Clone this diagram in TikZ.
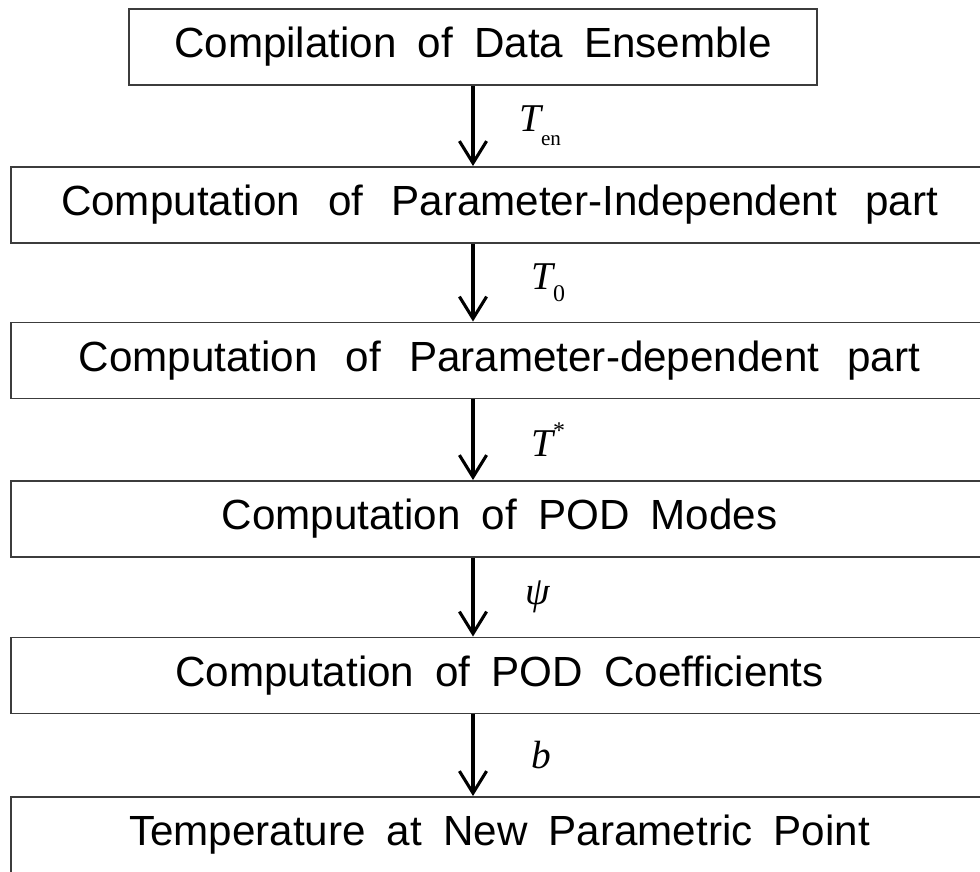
\documentclass[tikz,border=0pt]{standalone}
\usepackage{fontspec}
\setmainfont[WordSpace=1.8]{Liberation Sans}
\newfontfamily\widefont[WordSpace=2.4]{Liberation Sans}
\newfontfamily\labelfont{Liberation Serif}
\usetikzlibrary{arrows.meta, positioning}
\definecolor{frame1}{RGB}{60, 60, 60}

\begin{document}
\begin{tikzpicture}[
  stepbox/.style={draw=frame1, line width=1.4pt, minimum height=1.9cm, inner sep=0pt, font=\fontsize{30}{36}\selectfont},
  widebox/.style={stepbox, minimum width=24.425cm},
  flow/.style={-{Straight Barb[length=5.5mm, width=6.8mm]}, line width=2.2pt},
  lbl/.style={font=\fontsize{28}{32}\selectfont\labelfont, anchor=west}
]
  \clip (0, 0) rectangle (24.5, -21.8);

  \node[stepbox, minimum width=17.2cm] (ens) at (11.825, -1.175) {Compilation of Data Ensemble};
  \node[widebox] (indep) at (12.4875, -5.125) {\widefont Computation of Parameter-Independent part};
  \node[widebox] (dep) at (12.4875, -9.0125) {\widefont Computation of Parameter-dependent part};
  \node[widebox] (modes) at (12.4875, -12.975) {Computation of POD Modes};
  \node[widebox] (coef) at (12.4875, -16.8875) {Computation of POD Coefficients};
  \node[widebox] (temp) at (12.4875, -20.875) {Temperature at New Parametric Point};

  \draw[flow] (ens.south) -- (ens.south |- indep.north)
    node[lbl, midway, xshift=1.0cm] {\itshape T\raisebox{-0.35em}{\upshape\fontsize{15}{15}\selectfont en}};
  \draw[flow] (ens.south |- indep.south) -- (ens.south |- dep.north)
    node[lbl, midway, xshift=1.3cm] {\itshape T\raisebox{-0.3em}{\upshape\fontsize{17}{17}\selectfont 0}};
  \draw[flow] (ens.south |- dep.south) -- (ens.south |- modes.north)
    node[lbl, midway, xshift=1.3cm] {\itshape T\raisebox{0.45em}{\upshape\fontsize{17}{17}\selectfont *}};
  \draw[flow] (ens.south |- modes.south) -- (ens.south |- coef.north)
    node[lbl, midway, xshift=1.15cm] {\itshape ψ};
  \draw[flow] (ens.south |- coef.south) -- (ens.south |- temp.north)
    node[lbl, midway, xshift=1.3cm] {\itshape b};
\end{tikzpicture}
\end{document}
